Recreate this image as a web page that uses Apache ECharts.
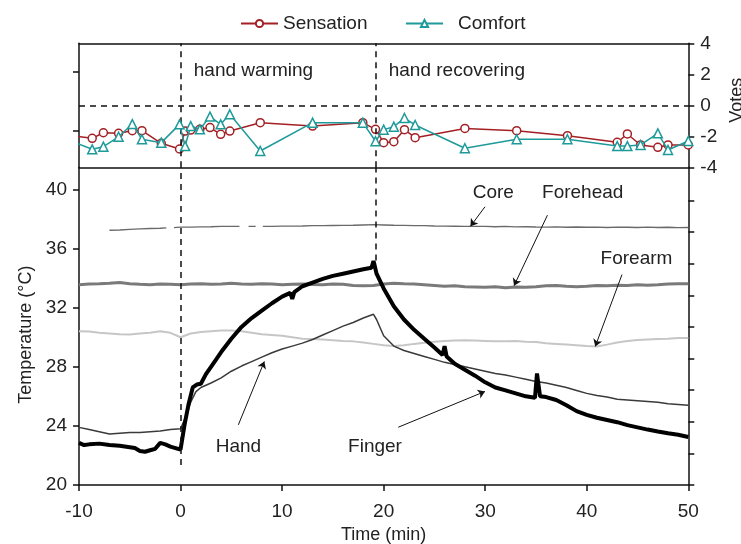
<!DOCTYPE html>
<html><head><meta charset="utf-8">
<script src="https://cdn.jsdelivr.net/npm/echarts@6/dist/echarts.min.js"></script>
<style>html,body{margin:0;padding:0;background:#fff}#c{width:741px;height:544px}</style>
</head><body><div id="c"></div>
<script>
// ---------- DATA ----------
const voteTime = [-11,-8.7,-7.6,-6.1,-4.75,-3.8,-1.9,-0.1,0.45,1.0,1.9,2.9,3.95,4.85,7.85,13.0,17.95,19.2,20.0,21.0,22.05,23.1,28.0,33.1,38.1,43.0,44.0,45.3,47.0,48.0,50.0];
const sensation = [-1.95,-2.13,-1.77,-1.81,-1.64,-1.64,-2.45,-2.82,-1.66,-1.6,-1.55,-1.44,-1.87,-1.66,-1.12,-1.34,-1.12,-1.55,-2.41,-2.35,-1.57,-2.09,-1.49,-1.64,-1.96,-2.39,-1.85,-2.56,-2.71,-2.56,-2.56];
const comfort = [-2.25,-2.84,-2.67,-2.03,-1.21,-2.19,-2.41,-1.23,-2.63,-1.34,-1.55,-0.73,-1.23,-0.58,-2.95,-1.12,-1.12,-2.32,-1.57,-1.38,-0.82,-1.27,-2.77,-2.19,-2.19,-2.63,-2.63,-2.56,-1.81,-2.88,-2.3];

const gridTime = [-10,-9,-8,-7,-6,-5,-4,-3,-2,-1,0,1,2,3,4,5,6,7,8,9,10,11,12,13,14,15,16,17,18,19,20,21,22,23,24,25,26,27,28,29,30,31,32,33,34,35,36,37,38,39,40,41,42,43,44,45,46,47,48,49,50];
const forehead = [33.55,33.6,33.62,33.65,33.7,33.62,33.58,33.55,33.6,33.58,
  33.55,33.6,33.62,33.58,33.6,33.65,33.6,33.58,33.62,33.6,
  33.55,33.58,33.6,33.57,33.55,33.6,33.58,33.5,33.48,33.5,
  33.6,33.65,33.62,33.6,33.55,33.5,33.45,33.48,33.42,33.4,
  33.38,33.42,33.35,33.4,33.38,33.42,33.48,33.5,33.45,33.42,
  33.45,33.5,33.48,33.52,33.5,33.55,33.52,33.55,33.6,33.62,
  33.62];
const forearm = [30.4,30.38,30.3,30.25,30.2,30.18,30.25,30.3,30.4,30.3,
  30.0,30.25,30.35,30.4,30.45,30.45,30.4,30.3,30.2,30.15,
  30.1,30.0,29.9,29.88,29.85,29.8,29.75,29.72,29.65,29.55,
  29.45,29.4,29.45,29.55,29.62,29.7,29.75,29.78,29.8,29.78,
  29.75,29.72,29.72,29.75,29.7,29.68,29.6,29.55,29.5,29.45,
  29.4,29.38,29.5,29.65,29.75,29.82,29.85,29.88,29.9,29.95,
  29.95];

const coreTime = [-7,-6,-5,-4,-3,-2,-1.4,-1,-0.65,0,1,2,3,4,5,5.8,6.2,6.7,7.4,7.7,8.1,
  9,10,11,12,13,14,15,16,17,18,19,20,21,22,23,24,25,26,27,28,29,30,31,32,33,34,35,36,37,38,39,40,41,42,43,44,45,46,47,48,49,50];
const core = [37.24,37.26,37.3,37.33,37.36,37.38,37.4,null,37.42,37.45,37.45,37.47,37.48,37.5,37.5,37.5,null,37.5,37.5,null,37.5,
  37.5,37.52,37.52,37.53,37.55,37.55,37.56,37.57,37.58,37.6,37.62,
  37.6,37.58,37.57,37.55,37.55,37.53,37.52,37.51,37.5,37.5,
  37.5,37.48,37.5,37.47,37.48,37.46,37.45,37.47,37.44,37.46,
  37.44,37.45,37.43,37.45,37.44,37.43,37.45,37.43,37.44,37.42,37.43];

const handTime = [-10,-9,-8,-7,-6,-5,-4,-3,-2,-1,0,0.5,1,1.5,2,3,4,5,6,7,8,9,10,11,12,13,14,15,16,17,18,19,19.3,
  20,21,22,23,24,25,26,27,28,29,30,31,32,33,34,35,36,37,38,39,40,41,42,43,44,45,46,47,48,49,50];
const hand = [23.9,23.75,23.6,23.45,23.5,23.55,23.55,23.6,23.65,23.75,
  23.8,24.6,25.6,26.3,26.6,
  26.9,27.25,27.7,28.05,28.35,28.65,28.95,29.2,29.4,29.6,29.85,30.15,30.45,30.75,31.0,31.3,31.55,31.2,
  30.1,29.4,29.1,28.9,28.7,28.5,28.3,28.15,28.0,27.85,27.7,27.55,27.45,27.3,27.15,27.0,26.9,26.75,26.6,26.4,26.2,26.05,25.95,25.8,25.75,25.7,25.65,25.6,25.5,25.45,25.4];

const fingerTime = [-10,-9.5,-9,-8,-7,-6,-5,-4.5,-4,-3.5,-3,-2.5,-2,-1.5,-1,-0.5,0,0.4,0.8,1.2,1.6,2,2.5,3,4,5,6,7,8,9,10,10.8,11,11.2,12,13,14,15,16,17,18,18.8,19,19.1,19.3,20,21,22,23,24,25,25.8,26,26.2,27,28,29,30,31,32,33,34,34.9,35.1,35.4,36,37,38,39,40,41,42,43,44,45,46,47,48,49,50];
const finger = [22.85,22.7,22.75,22.8,22.7,22.65,22.55,22.5,22.3,22.25,22.35,22.45,22.85,22.75,22.6,22.5,22.4,
  24.1,25.5,26.6,26.8,26.85,27.5,28.0,
  29.0,29.9,30.7,31.3,31.8,32.3,32.75,
  33.0,32.6,33.05,
  33.45,33.7,33.95,34.15,34.3,34.45,34.6,
  34.7,35.15,34.9,34.3,
  33.3,32.1,31.2,30.5,29.9,29.3,
  28.8,29.4,28.7,
  28.2,27.8,27.4,26.95,26.6,26.4,26.2,26.0,
  25.9,27.55,26.0,
  25.95,25.75,25.4,25.0,24.75,24.55,24.4,24.25,24.05,23.9,23.75,23.62,23.5,23.4,23.25];

const timeTicks = [-10,0,10,20,30,40,50];
const tempTicks = [20,24,28,32,36,40];
const voteTicks = [-4,-2,0,2,4];
const rightTempTicks = [0,1,2,3,4,5,6,7,8,9];
const leftVoteTicks = [2.17,-1.61];
const phaseNames = ['hand warming','hand recovering'];
const phaseStart = [0, 19.2];
const curveNames = ['Core','Forehead','Forearm','Hand','Finger'];

// ---------- CHART ----------
const FONT = "'Liberation Sans', Arial, sans-serif";
const TXT = '#222';
const AX = '#111';
const RED = '#a32025';
const TEAL = '#1e9a9a';
const pairs = (ts, vs) => ts.map((t, i) => [t, vs[i] == null ? '-' : vs[i]]);
const axLine = {show:true, onZero:false, lineStyle:{color:AX, width:1.5}};
const dash = {type:[6,5], width:1.5, color:AX};

// annotation layout (data coordinates)
const curveLabelPos = [[30.8,39.78],[39.6,39.78],[44.9,35.3],[5.7,22.6],[19.15,22.6]];
const phaseLabelPos = [[1.3,2.25],[20.5,2.25]];
const arrows = [
  [[29.98,38.83],[28.55,37.51]],
  [[36.13,38.26],[32.84,33.49]],
  [[43.47,34.24],[40.84,29.38]],
  [[5.69,24.07],[8.25,28.36]],
  [[21.44,23.91],[29.98,26.33]]
];

const chart = echarts.init(document.getElementById('c'));
chart.setOption({
  animation:false,
  textStyle:{fontFamily:FONT},
  grid:[
    {left:79, right:52.7, top:43.3, height:124, containLabel:false, outerBoundsMode:'none'},
    {left:79, right:52.7, top:167.3, height:317.7, containLabel:false, outerBoundsMode:'none'}
  ],
  legend:[
    {data:['Sensation'], left:235, top:9, itemWidth:37, itemHeight:9, itemGap:0,
      textStyle:{fontSize:19, color:TXT, fontFamily:FONT}},
    {data:['Comfort'], left:400, top:9, itemWidth:37, itemHeight:9, itemGap:0,
      textStyle:{fontSize:19, color:TXT, fontFamily:FONT, padding:[0,0,0,10]}}
  ],
  xAxis:[
    {gridIndex:0, type:'value', min:-10, max:50, position:'bottom', axisLine:axLine,
      axisTick:{show:false}, axisLabel:{show:false}, splitLine:{show:false}},
    {gridIndex:0, type:'value', min:-10, max:50, position:'top', axisLine:axLine,
      axisTick:{show:false}, axisLabel:{show:false}, splitLine:{show:false}},
    {gridIndex:1, type:'value', min:-10, max:50, interval:10, position:'bottom', axisLine:axLine,
      axisTick:{show:true, length:6, lineStyle:{color:AX, width:1.5}, customValues:timeTicks},
      axisLabel:{fontSize:19, color:TXT, margin:17, fontFamily:FONT, customValues:timeTicks},
      splitLine:{show:false},
      name:'Time (min)', nameLocation:'middle', nameGap:38,
      nameTextStyle:{fontSize:18, color:TXT, fontFamily:FONT}}
  ],
  yAxis:[
    {gridIndex:0, type:'value', min:-4, max:4, position:'left', axisLine:axLine,
      axisTick:{show:true, length:6, lineStyle:{color:AX, width:1.5}, customValues:leftVoteTicks},
      axisLabel:{show:false}, splitLine:{show:false}},
    {gridIndex:0, type:'value', min:-4, max:4, interval:2, position:'right', axisLine:axLine,
      axisTick:{show:true, length:6, lineStyle:{color:AX, width:1.5}, customValues:voteTicks},
      axisLabel:{fontSize:19, color:TXT, margin:12, fontFamily:FONT, customValues:voteTicks},
      splitLine:{show:false},
      name:'Votes', nameLocation:'middle', nameGap:39, nameRotate:90,
      nameTextStyle:{fontSize:18, color:TXT, fontFamily:FONT, padding:[0,0,0,10]}},
    {gridIndex:1, type:'value', min:20, max:41.5, interval:4, position:'left', axisLine:axLine,
      axisTick:{show:true, length:6, lineStyle:{color:AX, width:1.5}, customValues:tempTicks},
      axisLabel:{fontSize:19, color:TXT, margin:12, fontFamily:FONT, customValues:tempTicks},
      splitLine:{show:false},
      name:'Temperature (°C)', nameLocation:'middle', nameGap:44, nameRotate:90,
      nameTextStyle:{fontSize:18, color:TXT, fontFamily:FONT, padding:[0,17,0,0]}},
    {gridIndex:1, type:'value', min:0, max:10.05, interval:1, position:'right', axisLine:axLine,
      axisTick:{show:true, length:6, lineStyle:{color:AX, width:1.5}, customValues:rightTempTicks},
      axisLabel:{show:false}, splitLine:{show:false}}
  ],
  series:[
    {name:'Sensation', type:'line', xAxisIndex:0, yAxisIndex:1, data:pairs(voteTime, sensation),
      symbol:'circle', symbolSize:8, showAllSymbol:true, clip:true, z:4,
      lineStyle:{color:RED, width:1.5}, itemStyle:{color:'#fff', borderColor:RED, borderWidth:1.5},
      markLine:{silent:true, symbol:['none','none'], label:{show:false}, lineStyle:dash,
        data:[{xAxis:phaseStart[0]},{xAxis:phaseStart[1]},{yAxis:0}]}},
    {name:'Comfort', type:'line', xAxisIndex:0, yAxisIndex:1, data:pairs(voteTime, comfort),
      symbol:'triangle', symbolSize:9, showAllSymbol:true, clip:true, z:5,
      lineStyle:{color:TEAL, width:1.5}, itemStyle:{color:'#fff', borderColor:TEAL, borderWidth:1.5}},
    {name:'Forearm', type:'line', xAxisIndex:2, yAxisIndex:2, data:pairs(gridTime, forearm),
      showSymbol:false, lineStyle:{color:'#c6c6c6', width:2},
      markLine:{silent:true, symbol:['none','none'], label:{show:false}, lineStyle:dash,
        data:[[{coord:[phaseStart[0],21.36]},{coord:[phaseStart[0],41.5]}],
              [{coord:[phaseStart[1],35.2]},{coord:[phaseStart[1],41.5]}]]}},
    {name:'Forehead', type:'line', xAxisIndex:2, yAxisIndex:2, data:pairs(gridTime, forehead),
      showSymbol:false, lineStyle:{color:'#7a7a7a', width:3}},
    {name:'Core', type:'line', xAxisIndex:2, yAxisIndex:2, data:pairs(coreTime, core),
      showSymbol:false, connectNulls:false, lineStyle:{color:'#6a6a6a', width:1.4}},
    {name:'Hand', type:'line', xAxisIndex:2, yAxisIndex:2, data:pairs(handTime, hand),
      showSymbol:false, lineStyle:{color:'#3a3a3a', width:1.5}},
    {name:'Finger', type:'line', xAxisIndex:2, yAxisIndex:2, data:pairs(fingerTime, finger),
      showSymbol:false, lineStyle:{color:'#000', width:4},
      markLine:{silent:true, symbol:['none','arrow'], symbolSize:7, label:{show:false},
        lineStyle:{color:'#111', width:1, type:'solid'},
        data:arrows.map(a => [{coord:a[0]},{coord:a[1]}])}}
  ]
});

// annotation texts placed through the chart's own coordinate systems
const textEl = (p, text, align) => ({type:'text', x:p[0], y:p[1], silent:true, z:20,
  style:{text:text, fill:TXT, font:'19px ' + FONT, align:align, verticalAlign:'middle'}});
const graphics = [];
curveNames.forEach((n,i) => {
  graphics.push(textEl(chart.convertToPixel({xAxisIndex:2, yAxisIndex:2}, curveLabelPos[i]), n, 'center'));
});
phaseNames.forEach((n,i) => {
  graphics.push(textEl(chart.convertToPixel({xAxisIndex:0, yAxisIndex:1}, phaseLabelPos[i]), n, 'left'));
});
chart.setOption({graphic:graphics});
</script>
</body></html>
